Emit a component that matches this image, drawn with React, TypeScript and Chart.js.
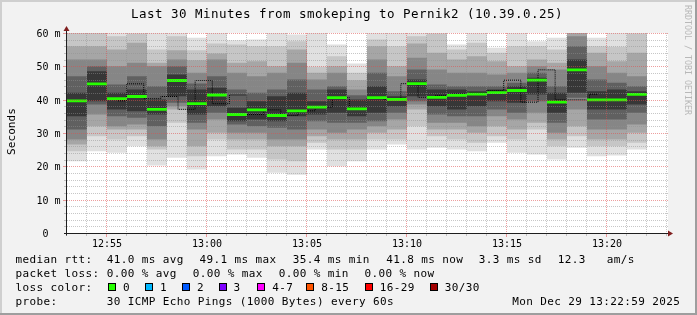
import React, { useEffect, useRef } from "react";
import { Chart, registerables } from "chart.js";

Chart.register(...registerables);

// ---------- data ----------
const timeLabels = ["12:53","12:54","12:55","12:56","12:57","12:58","12:59","13:00","13:01","13:02","13:03","13:04","13:05","13:06","13:07","13:08","13:09","13:10","13:11","13:12","13:13","13:14","13:15","13:16","13:17","13:18","13:19","13:20","13:21","13:22"];
const endLabel = "13:23";
const xTickLabels = ["12:55","13:00","13:05","13:10","13:15","13:20"];
const yTickValues = [0, 10, 20, 30, 40, 50, 60];
const yTickLabels = ["0", "10 m", "20 m", "30 m", "40 m", "50 m", "60 m"];
const yMinorStep = 2;

const medianRtt = [39.8, 44.9, 40.45, 41.1, 37.25, 45.9, 38.95, 41.55, 35.7, 37.1, 35.4, 36.8, 37.9, 40.75, 37.4, 40.75, 40.2, 44.95, 40.85, 41.45, 41.8, 42.25, 42.9, 46.0, 39.4, 49.1, 40.1, 40.1, 41.75, null];

// smoke bands, 1 = outermost (lightest) ... 6 = innermost (darkest)
const smokeHi1 = [62, 62, 61.5, 61.5, 61, 61.5, 58.7, 60.5, 58, 58.2, 60.2, 59.7, 60.3, 56.7, 51, 61.5, 60.5, 61.5, 61.5, 56.7, 60.5, 55.7, 61, 57.7, 58.7, 68, 58.7, 60.5, 61, null];
const smokeHi2 = [61, 61, 59.2, 60, 55.2, 59.2, 55, 57, 56.7, 56.2, 56.2, 57.7, 50, 53.2, 48.2, 58.2, 56.2, 59.2, 60, 55.2, 57.2, 54.2, 56.2, 56.2, 55.2, 65, 56.2, 56, 60, null];
const smokeHi3 = [56.2, 56.2, 55.2, 57.2, 51.2, 55, 52, 54, 51.2, 51.7, 50.2, 55.2, 48.2, 50.2, 46, 56.2, 50.2, 57, 54.2, 52.2, 53.2, 51.7, 50.2, 52.2, 51.2, 62, 54.2, 51.7, 54.2, null];
const smokeHi4 = [52.2, 52.2, 50.2, 51.2, 50.2, 52.2, 48.2, 52.2, 48.2, 47.2, 48.2, 51.2, 46.2, 48.2, 43.2, 52.2, 47.2, 52.7, 49.2, 48.2, 48.2, 47.7, 48.2, 50.2, 49.2, 59.2, 50.2, 48.2, 47.2, null];
const smokeHi5 = [47.2, 50.2, 44.7, 47.2, 44.2, 50.2, 45, 47.2, 43.2, 42.2, 43.2, 46.2, 43.2, 44.2, 41.5, 48.2, 42.7, 49.2, 44.7, 44.2, 44.2, 44.2, 45.2, 48.2, 44.2, 56.2, 46.2, 45.2, 44.2, null];
const smokeHi6 = [42.2, 48.7, 42.2, 43.2, 40.2, 47.7, 43.2, 43.7, 37.7, 39.7, 41.2, 42.2, 39.7, 43.2, 40.2, 44.2, 41.2, 46.2, 43.2, 43.2, 42.7, 43.2, 44.2, 46.7, 42.2, 52.2, 42.7, 43.2, 42.7, null];
const smokeLo6 = [35.2, 39.7, 37.2, 36.7, 35.7, 41.2, 35.7, 38.2, 33.7, 34.2, 33.7, 35.2, 35.7, 36.2, 35.2, 36.2, 38.2, 41.2, 38.2, 37.2, 38.2, 39.7, 39.2, 41.7, 36.2, 42.2, 37.2, 37.2, 38.7, null];
const smokeLo5 = [31.2, 38.7, 35.2, 34.7, 32.2, 39.2, 33.2, 36.2, 32.7, 32.2, 31.7, 31.2, 33.7, 33.2, 33.2, 33.7, 36.2, 39.7, 35.7, 35.2, 35.2, 37.2, 36.2, 39.7, 33.2, 40.7, 34.2, 34.2, 36.2, null];
const smokeLo4 = [28.2, 35.7, 32.2, 32.7, 28.2, 38.2, 31.2, 34.2, 30.2, 30.2, 28.2, 28.2, 31.2, 30.2, 31.2, 32.2, 34.2, 38.7, 33.2, 33.2, 32.2, 35.2, 34.2, 36.2, 30.2, 37.2, 31.2, 31.2, 32.7, null];
const smokeLo3 = [26.7, 32.2, 31.2, 31.2, 26.2, 37.2, 26.2, 30.2, 28.2, 28.2, 26.2, 26.2, 29.2, 28.2, 28.2, 30.2, 31.2, 37.2, 31.2, 31.2, 30.2, 32.2, 31.2, 33.2, 28.2, 32.2, 28.2, 28.2, 30.2, null];
const smokeLo2 = [24.7, 29.2, 28.2, 29.2, 25.2, 33.2, 23.2, 28.2, 25.2, 25.2, 22.2, 21.7, 27.2, 25.2, 25.2, 28.2, 28.2, 32.2, 29.2, 28.2, 27.2, 29.2, 28.2, 31.2, 26.2, 29.2, 26.2, 26.2, 27.2, null];
const smokeLo1 = [21.7, 24.7, 24.2, 26.2, 20.4, 22.7, 19.2, 23.2, 23.7, 22.7, 18.2, 17.6, 25.2, 20.2, 21.7, 25.2, 26.7, 25.2, 25.7, 25.2, 24.7, 27.2, 24.2, 23.7, 22.2, 25.7, 23.2, 23.4, 25.2, null];

const titleText = "Last 30 Minutes from smokeping to Pernik2 (10.39.0.25)";
const rttStats = ["41.0 ms avg", "49.1 ms max", "35.4 ms min", "41.8 ms now", "3.3 ms sd", "12.3", "am/s"];
const lossStats = ["0.00 % avg", "0.00 % max", "0.00 % min", "0.00 % now"];
const lossLabels = ["0", "1", "2", "3", "4-7", "8-15", "16-29", "30/30"];
const lossColors = ["#26ff00", "#00b8ff", "#0059ff", "#7e00ff", "#ff00ff", "#ff5500", "#ff0000", "#a10000"];
const probeText = "30 ICMP Echo Pings (1000 Bytes) every 60s";
const dateText = "Mon Dec 29 13:22:59 2025";

// ---------- layout / style ----------
const W = 697;
const H = 315;
const GRAYS = ["#e0e0e0", "#c6c6c6", "#a6a6a6", "#868686", "#606060", "#373737"];
const MINOR = "rgba(143,143,143,0.5)";
const MAJOR = "rgba(222,79,79,0.55)";
const FONT = '"DejaVu Sans Mono", monospace';
const rttX = [107.3, 200, 293.3, 386.7, 479.3, 558.3, 607.3];
const lossX = [107.3, 193.3, 279.3, 365];
const boxX = [109, 146, 183, 219.5, 258.3, 307.3, 365.7, 430.7];

function txt(ctx: CanvasRenderingContext2D, s: string, x: number, y: number, size: number, align: CanvasTextAlign = "left", spacing = 0, color = "#000") {
  ctx.font = `${size}px ${FONT}`;
  (ctx as any).letterSpacing = `${spacing}px`;
  ctx.textAlign = align;
  ctx.textBaseline = "alphabetic";
  ctx.fillStyle = color;
  ctx.fillText(s, x, y);
}

const rrdPlugin = {
  id: "rrdlook",
  beforeDraw(chart: any) {
    const ctx: CanvasRenderingContext2D = chart.ctx;
    ctx.save();
    ctx.fillStyle = "#f2f2f2";
    ctx.fillRect(0, 0, W, H);
    ctx.fillStyle = "#cfcfcf";
    ctx.fillRect(0, 0, W, 2);
    ctx.fillRect(0, 0, 2, H);
    ctx.fillStyle = "#9e9e9e";
    ctx.fillRect(0, H - 2, W, 2);
    ctx.fillRect(W - 2, 0, 2, H);
    const a = chart.chartArea;
    ctx.fillStyle = "#ffffff";
    ctx.fillRect(Math.round(a.left) - 1, Math.round(a.top), Math.round(a.right - a.left) + 2, Math.round(a.bottom - a.top));
    ctx.restore();
  },
  afterDatasetsDraw(chart: any) {
    const ctx: CanvasRenderingContext2D = chart.ctx;
    const a = chart.chartArea;
    const xs = chart.scales.x;
    const ys = chart.scales.y;
    const n = timeLabels.length;
    const colW = xs.getPixelForValue(1) - xs.getPixelForValue(0);
    const edge = (k: number) => xs.getPixelForValue(0) - colW / 2 + k * colW;
    const yPix = (v: number) => Math.round(ys.getPixelForValue(v) - 0.5) + 0.5;
    const bLabel = (k: number) => (k < n ? timeLabels[k] : endLabel);
    const topY = Math.round(a.top);
    const y0 = yPix(0);
    const maxTick = yTickValues[yTickValues.length - 1];

    ctx.save();
    ctx.lineWidth = 1;
    ctx.setLineDash([1, 1]);
    // horizontal grid
    for (let pass = 0; pass < 2; pass++) {
      for (let j = 1; j * yMinorStep <= maxTick; j++) {
        const v = j * yMinorStep;
        const major = yTickValues.includes(v);
        if ((pass === 1) !== major) continue;
        const y = yPix(v);
        ctx.strokeStyle = major ? MAJOR : MINOR;
        ctx.beginPath();
        ctx.moveTo(edge(0), y);
        ctx.lineTo(edge(n) + 1, y);
        ctx.stroke();
      }
    }
    // vertical grid
    for (let pass = 0; pass < 2; pass++) {
      for (let k = 1; k <= n; k++) {
        const major = xTickLabels.includes(bLabel(k));
        if ((pass === 1) !== major) continue;
        const x = edge(k) - 0.5;
        ctx.strokeStyle = major ? MAJOR : MINOR;
        ctx.beginPath();
        ctx.moveTo(x, topY);
        ctx.lineTo(x, y0 - 0.5);
        ctx.stroke();
      }
    }
    ctx.setLineDash([]);
    // small ticks
    for (let k = 0; k <= n; k++) {
      const major = xTickLabels.includes(bLabel(k));
      ctx.fillStyle = major ? MAJOR : MINOR;
      ctx.fillRect(Math.round(edge(k)) - 1, y0 + 0.5, 1, major ? 3 : 2);
    }
    for (let j = 1; j * yMinorStep <= maxTick; j++) {
      const v = j * yMinorStep;
      const major = yTickValues.includes(v);
      ctx.fillStyle = major ? MAJOR : MINOR;
      ctx.fillRect(Math.round(edge(0)) - (major ? 4 : 3), yPix(v) - 0.5, major ? 3 : 2, 1);
    }
    // axes
    ctx.strokeStyle = "#1f1f1f";
    ctx.beginPath();
    ctx.moveTo(edge(0) - 3, y0);
    ctx.lineTo(edge(n) + 2, y0);
    ctx.stroke();
    const ax = edge(0) - 0.5;
    ctx.beginPath();
    ctx.moveTo(ax, y0 + 2);
    ctx.lineTo(ax, topY - 2);
    ctx.stroke();
    // arrows
    ctx.fillStyle = "#801f1f";
    ctx.beginPath();
    ctx.moveTo(ax - 3, topY - 2);
    ctx.lineTo(ax + 3, topY - 2);
    ctx.lineTo(ax, topY - 7);
    ctx.closePath();
    ctx.fill();
    const ex = edge(n) + 1;
    ctx.beginPath();
    ctx.moveTo(ex, y0 - 3);
    ctx.lineTo(ex, y0 + 3);
    ctx.lineTo(ex + 5, y0);
    ctx.closePath();
    ctx.fill();

    // axis labels
    for (const lab of xTickLabels) {
      const k = timeLabels.indexOf(lab);
      txt(ctx, lab, edge(k), 246.5, 10, "center");
    }
    yTickValues.forEach((v, i) => {
      const s = yTickLabels[i].includes(" ") ? yTickLabels[i] : yTickLabels[i] + "  ";
      txt(ctx, s, 60.5, yPix(v) + 3.4, 10, "right");
    });

    // title
    txt(ctx, titleText, 347, 17.7, 12.5, "center", 0.47);

    // y axis title
    ctx.save();
    ctx.translate(15, 131.5);
    ctx.rotate(-Math.PI / 2);
    txt(ctx, "Seconds", 0, 0, 11, "center", 0.1);
    ctx.restore();

    // watermark
    ctx.save();
    ctx.translate(685, 5);
    ctx.rotate(Math.PI / 2);
    txt(ctx, "RRDTOOL / TOBI OETIKER", 0, 0, 8.3, "left", 0, "#b8b8b8");
    ctx.restore();

    // legend
    const LS = 11;
    const SP = 0.38;
    txt(ctx, "median rtt:", 15.5, 263, LS, "left", SP);
    rttStats.forEach((s, i) => txt(ctx, s, rttX[i] - 0.5, 263, LS, "left", SP));
    txt(ctx, "packet loss:", 15.5, 277, LS, "left", SP);
    lossStats.forEach((s, i) => txt(ctx, s, lossX[i] - 0.5, 277, LS, "left", SP));
    txt(ctx, "loss color:", 15.5, 291, LS, "left", SP);
    lossLabels.forEach((s, i) => {
      const bx = Math.round(boxX[i]) - 1;
      ctx.fillStyle = "#000";
      ctx.fillRect(bx, 283, 8, 8);
      ctx.fillStyle = lossColors[i];
      ctx.fillRect(bx + 1, 284, 6, 6);
      txt(ctx, s, boxX[i] + 14, 291, LS, "left", SP);
    });
    txt(ctx, "probe:", 15.5, 304.5, LS, "left", SP);
    txt(ctx, probeText, 106.8, 304.5, LS, "left", SP);
    txt(ctx, dateText, 512.2, 304.5, LS, "left", SP);
    (ctx as any).letterSpacing = "0px";
    ctx.restore();
  },
};

export default function App() {
  const ref = useRef<HTMLCanvasElement>(null);

  useEffect(() => {
    document.body.style.margin = "0";
    const canvas = ref.current;
    if (!canvas) return;

    const his = [smokeHi1, smokeHi2, smokeHi3, smokeHi4, smokeHi5, smokeHi6];
    const los = [smokeLo1, smokeLo2, smokeLo3, smokeLo4, smokeLo5, smokeLo6];
    const pair = (lo: (number | null)[], hi: (number | null)[]) =>
      lo.map((l, i) => (l == null || hi[i] == null ? null : [l, hi[i] as number]));

    const datasets: any[] = GRAYS.map((c, k) => ({
      type: "bar",
      data: pair(los[k], his[k]),
      backgroundColor: c,
      borderWidth: 0,
      inflateAmount: 0,
      barPercentage: 1,
      categoryPercentage: 1,
      grouped: false,
      clip: 0,
      order: 20 - k,
      xAxisID: "x",
      yAxisID: "y",
    }));

    const stepPts = medianRtt
      .map((v, i) => (v == null ? null : { x: i, y: v }))
      .filter((p) => p !== null);
    datasets.push({
      type: "line",
      data: stepPts,
      xAxisID: "xs",
      yAxisID: "y",
      borderColor: "#000000",
      borderWidth: 1,
      borderDash: [1, 1],
      pointRadius: 0,
      stepped: "middle",
      fill: false,
      clip: 0,
      order: 2,
    });

    datasets.push({
      type: "bar",
      data: pair(
        medianRtt.map((v) => (v == null ? null : v - 0.42)),
        medianRtt.map((v) => (v == null ? null : v + 0.42))
      ),
      backgroundColor: "#26ff00",
      borderWidth: 0,
      inflateAmount: 0,
      barPercentage: 1,
      categoryPercentage: 1,
      grouped: false,
      clip: 0,
      order: 1,
      xAxisID: "x",
      yAxisID: "y",
    });

    const chart = new Chart(canvas, {
      type: "bar",
      data: { labels: timeLabels, datasets },
      options: {
        animation: false,
        responsive: false,
        devicePixelRatio: 1,
        layout: { padding: { left: 67, right: W - 667, top: 33, bottom: H - 233.5 } },
        scales: {
          x: { type: "category", display: false, offset: true, grid: { display: false } },
          xs: { type: "linear", display: false, min: -0.475, max: timeLabels.length - 0.475 },
          y: { type: "linear", display: false, min: 0, max: 60.15 },
        },
        plugins: {
          legend: { display: false },
          tooltip: { enabled: false },
          title: { display: false },
        },
        events: [],
      } as any,
      plugins: [rrdPlugin],
    });

    return () => chart.destroy();
  }, []);

  return (
    <div style={{ position: "absolute", left: 0, top: 0, width: W, height: H }}>
      <canvas ref={ref} width={W} height={H} style={{ display: "block", width: W, height: H }} />
    </div>
  );
}
